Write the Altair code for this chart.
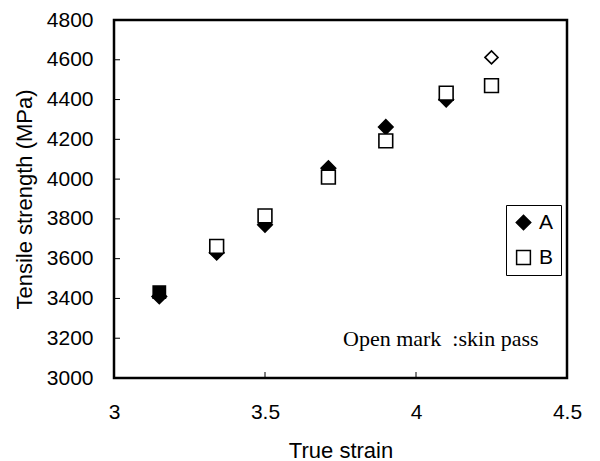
import altair as alt
import pandas as pd

# True strain values
strain = [3.15, 3.34, 3.50, 3.71, 3.90, 4.10, 4.25]
# Tensile strength (MPa)
series_a = [3410, 3630, 3770, 4055, 4262, 4400, 4612]
series_b = [3432, 3662, 3815, 4010, 4192, 4432, 4470]
# marker key for each point
key_a = ["A", "A", "A", "A", "A", "A", "A skin"]
key_b = ["B filled", "B", "B", "B", "B", "B", "B"]

x_ticks = [3, 3.5, 4, 4.5]
y_ticks = [3000, 3200, 3400, 3600, 3800, 4000, 4200, 4400, 4600, 4800]

rows = []
for xv, yv, k in zip(strain, series_a, key_a):
    rows.append({"strain": xv, "ts": yv, "key": k})
for xv, yv, k in zip(strain, series_b, key_b):
    rows.append({"strain": xv, "ts": yv, "key": k})
df = pd.DataFrame(rows)
df["order"] = range(len(df))

keys = ["A", "B", "A skin", "B filled"]
leg = alt.Legend(
    values=["A", "B"], orient="none", legendX=392, legendY=185, title=None,
    strokeColor="black", padding=7, rowPadding=13,
    labelFont="Liberation Sans", labelFontSize=21, labelColor="black",
    labelOffset=5, symbolStrokeColor="black", symbolStrokeWidth=1.5,
)

xs = alt.Scale(domain=[3, 4.5], nice=False, zero=False)
ys = alt.Scale(domain=[3000, 4800], nice=False, zero=False)

x_axis = alt.Axis(values=x_ticks, grid=False, domain=False, ticks=False, tickSize=0,
                  labelPadding=23, titlePadding=18, labelFlush=False, labelOverlap=False,
                  labelExpr="datum.value == 3 || datum.value == 4 ? format(datum.value, 'd') : format(datum.value, '.1f')")
y_axis = alt.Axis(values=y_ticks, grid=False, domain=False, ticks=False, tickSize=0,
                  labelPadding=21, titlePadding=10, labelFlush=False, labelOverlap=False,
                  format="d")
x_title = "True strain"
y_title = "Tensile strength (MPa)"

points = alt.Chart(df).mark_point(filled=True, strokeWidth=1.6, opacity=1).encode(
    x=alt.X("strain:Q", scale=xs, title=x_title, axis=x_axis),
    y=alt.Y("ts:Q", scale=ys, title=y_title, axis=y_axis),
    shape=alt.Shape("key:N", scale=alt.Scale(domain=keys, range=["diamond", "square", "diamond", "square"]), legend=leg),
    fill=alt.Fill("key:N", scale=alt.Scale(domain=keys, range=["black", "white", "white", "black"]), legend=leg),
    stroke=alt.Stroke("key:N", scale=alt.Scale(domain=keys, range=["black", "black", "black", "black"]), legend=leg),
    size=alt.Size("key:N", scale=alt.Scale(domain=keys, range=[210, 150, 190, 150]), legend=leg),
    order=alt.Order("order:Q"),
)

xt = pd.DataFrame({"v": x_ticks[1:-1]})
yt = pd.DataFrame({"v": y_ticks[1:-1]})

xtick = alt.Chart(xt).mark_rule(color="black", strokeWidth=1).encode(
    x=alt.X("v:Q", scale=xs, title=x_title, axis=x_axis), y=alt.value(358), y2=alt.value(352))
ytick = alt.Chart(yt).mark_rule(color="black", strokeWidth=1).encode(
    y=alt.Y("v:Q", scale=ys, title=y_title, axis=y_axis), x=alt.value(0), x2=alt.value(6))

note = alt.Chart(pd.DataFrame({"t": ["Open mark\u00a0\u00a0:skin pass"]})).mark_text(
    font="Liberation Serif", fontSize=22, align="left", baseline="alphabetic", color="black"
).encode(x=alt.value(229), y=alt.value(326), text="t:N")

chart = alt.layer(points, xtick, ytick, note).properties(
    width=453, height=358,
    autosize=alt.AutoSizeParams(type="none"),
    padding={"left": 114, "top": 20, "right": 33, "bottom": 83},
    background="white",
).configure_view(stroke="black", strokeWidth=2.5).configure_axis(
    labelFont="Liberation Sans", labelFontSize=21, labelColor="black",
    titleFont="Liberation Sans", titleFontSize=22, titleColor="black", titleFontWeight="normal",
    labelOverlap=False,
).configure_legend(strokeWidth=1)

chart.save("out.html", embed_options={"renderer": "svg", "actions": False})
